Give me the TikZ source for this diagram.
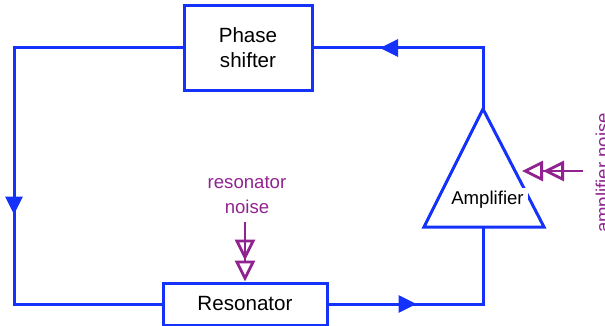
\documentclass[tikz,border=0pt]{standalone}
\usepackage{fontspec}
\setmainfont{Liberation Sans}
\usetikzlibrary{arrows.meta,decorations.markings}
\definecolor{loopblue}{RGB}{20,50,250}
\definecolor{noisepurple}{RGB}{145,35,145}
\tikzset{
    block/.style={draw=loopblue,line width=1.5pt,align=center,font=\fontsize{10.3}{12.5}\selectfont},
    wire/.style={loopblue,line width=1.5pt},
    midarrow/.style={postaction={decorate},decoration={markings,mark=at position #1 with {\arrow{Triangle[length=9pt,width=8.5pt]}}}},
    noise/.style={noisepurple,line width=1.4pt,-{Triangle[open,length=10.5pt,width=10pt]Triangle[open,length=10.5pt,width=10pt]}},
    noisetext/.style={text=noisepurple,align=center,font=\fontsize{9.3}{12.5}\selectfont}
}
\begin{document}
\begin{tikzpicture}[x=0.5pt,y=-0.5pt]
        \useasboundingbox (0,0) rectangle (605,326);
        %blocchi
        \node[block,minimum width=64pt,minimum height=42.5pt] (phase) at (248,48) {Phase\\shifter};
        \node[block,minimum width=82pt,minimum height=21pt] (res) at (245,304) {Resonator};
        %amplificatore
        \coordinate (ampout) at (483,109);
        \coordinate (ampin) at (483,227);
        \draw[wire] (424,227) -- (ampout) -- (544,227) -- cycle;
        \node[fill=white,inner sep=2pt,anchor=base,font=\fontsize{9.3}{12.5}\selectfont] (amp) at (487.5,205) {Amplifier};
        %anello
        \draw[wire,midarrow=167.5pt] (phase.west) -- (14,48) -- (14,304) -- (res.west);
        \draw[wire,midarrow=44pt] (res.east) -- (483,304) -- (ampin);
        \draw[wire,midarrow=82pt] (ampout) -- (483,48) -- (phase.east);
        %rumore
        \node[noisetext] (restxt) at (247,195) {resonator\\noise};
        \coordinate (resnoise) at (245,222);
        \draw[noise] (resnoise) -- (res.north);
        \coordinate (ampnoise) at (583,171);
        \coordinate (ampedge) at (522,171);
        \draw[noise] (ampnoise) -- (ampedge);
        \node[noisetext,rotate=90,anchor=base] (amptxt) at (609,173) {amplifier noise};
    \end{tikzpicture}
\end{document}
